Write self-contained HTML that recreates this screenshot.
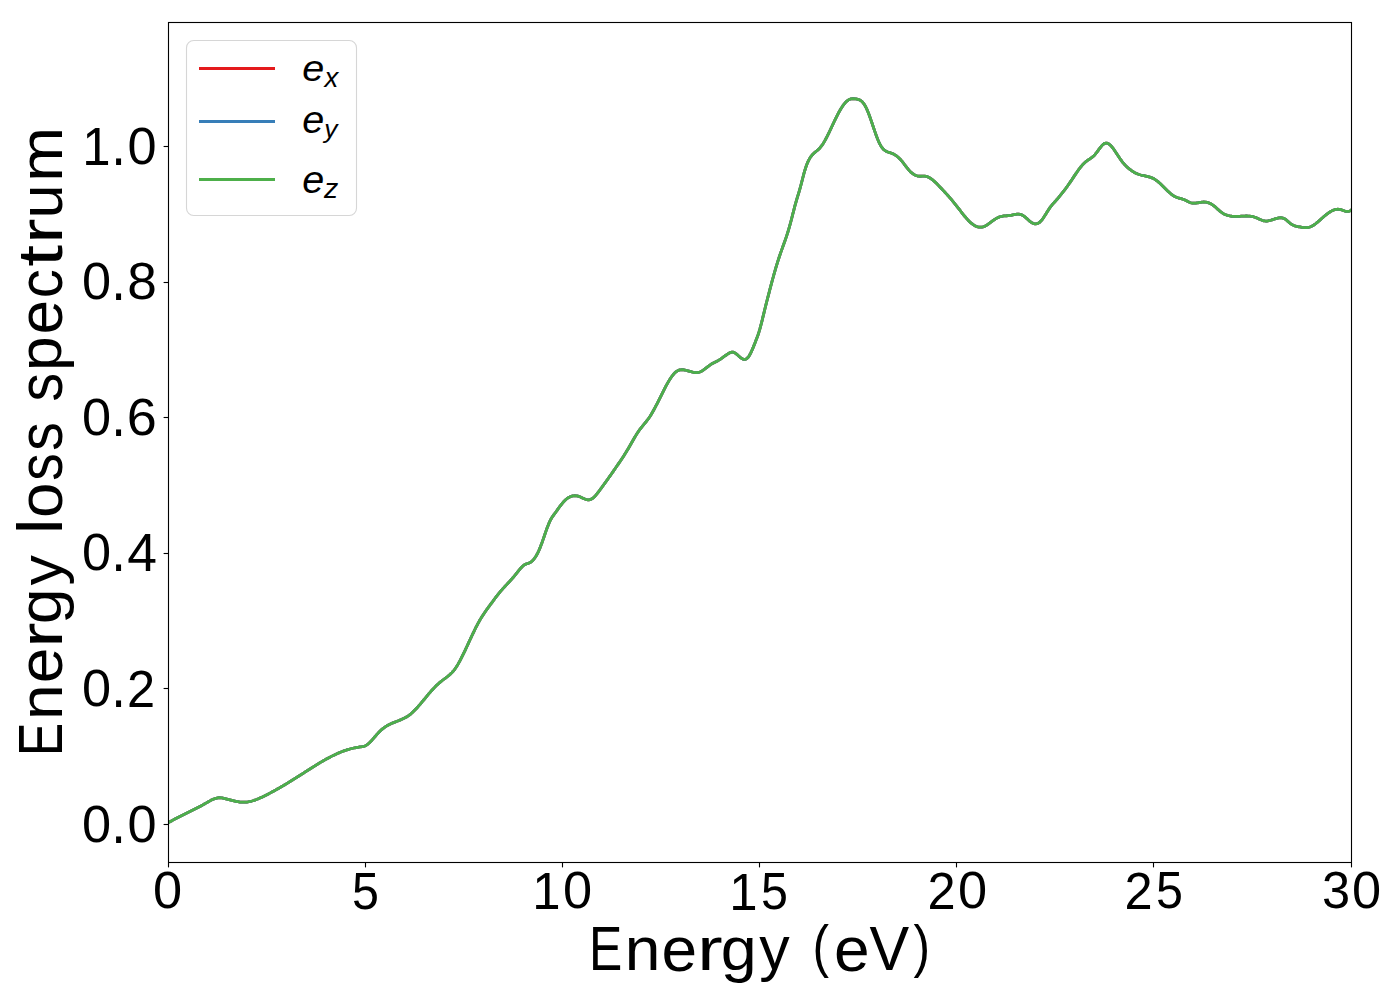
<!DOCTYPE html>
<html><head><meta charset="utf-8"><title>Energy loss spectrum</title>
<style>html,body{margin:0;padding:0;background:#fff;width:1400px;height:1000px;overflow:hidden}svg{display:block}</style>
</head><body>
<svg width="1400" height="1000" viewBox="0 0 1400 1000" font-family="'Liberation Sans', sans-serif">
<rect width="1400" height="1000" fill="#fff"/>
<defs><clipPath id="ax"><rect x="168.5" y="22.5" width="1183" height="840"/></clipPath></defs>
<g clip-path="url(#ax)" fill="none" stroke-width="2.78" stroke-linejoin="round" stroke-linecap="butt"><defs><path id="crv" d="M166 824.11 168.9 822.40 169.9 821.82 170.9 821.24 171.9 820.67 172.9 820.12 173.9 819.57 174.9 819.04 175.9 818.51 176.9 817.99 177.9 817.47 178.9 816.96 179.9 816.46 180.9 815.96 181.9 815.46 182.9 814.97 183.9 814.48 184.9 813.99 185.9 813.50 186.9 813.02 187.9 812.53 188.9 812.04 189.9 811.56 190.9 811.07 191.9 810.57 192.9 810.08 193.9 809.58 194.9 809.08 195.9 808.58 196.9 808.07 197.9 807.55 198.9 807.03 199.9 806.50 200.9 805.97 201.9 805.42 202.9 804.87 203.9 804.31 204.9 803.75 205.9 803.17 206.9 802.59 207.9 802.01 208.9 801.44 209.9 800.89 210.9 800.36 211.9 799.86 212.9 799.40 213.9 798.97 214.9 798.60 215.9 798.29 216.9 798.03 217.9 797.85 218.9 797.74 219.9 797.71 220.9 797.77 221.9 797.90 222.9 798.09 223.9 798.31 224.9 798.57 225.9 798.83 226.9 799.10 227.9 799.37 228.9 799.64 229.9 799.91 230.9 800.18 231.9 800.44 232.9 800.69 233.9 800.93 234.9 801.15 235.9 801.36 236.9 801.56 237.9 801.73 238.9 801.88 239.9 802.01 240.9 802.11 241.9 802.18 242.9 802.22 243.9 802.23 244.9 802.20 245.9 802.13 246.9 802.03 247.9 801.89 248.9 801.72 249.9 801.51 250.9 801.28 251.9 801.02 252.9 800.73 253.9 800.41 254.9 800.07 255.9 799.71 256.9 799.32 257.9 798.92 258.9 798.50 259.9 798.06 260.9 797.61 261.9 797.15 262.9 796.67 263.9 796.19 264.9 795.69 265.9 795.20 266.9 794.69 267.9 794.18 268.9 793.66 269.9 793.14 270.9 792.61 271.9 792.07 272.9 791.53 273.9 790.99 274.9 790.44 275.9 789.88 276.9 789.32 277.9 788.75 278.9 788.18 279.9 787.61 280.9 787.03 281.9 786.45 282.9 785.86 283.9 785.27 284.9 784.68 285.9 784.08 286.9 783.47 287.9 782.87 288.9 782.26 289.9 781.65 290.9 781.03 291.9 780.41 292.9 779.79 293.9 779.17 294.9 778.54 295.9 777.91 296.9 777.28 297.9 776.65 298.9 776.02 299.9 775.38 300.9 774.74 301.9 774.10 302.9 773.46 303.9 772.82 304.9 772.18 305.9 771.53 306.9 770.89 307.9 770.25 308.9 769.61 309.9 768.98 310.9 768.34 311.9 767.71 312.9 767.08 313.9 766.45 314.9 765.83 315.9 765.21 316.9 764.59 317.9 763.98 318.9 763.38 319.9 762.78 320.9 762.18 321.9 761.60 322.9 761.01 323.9 760.44 324.9 759.87 325.9 759.31 326.9 758.76 327.9 758.22 328.9 757.68 329.9 757.16 330.9 756.64 331.9 756.13 332.9 755.63 333.9 755.15 334.9 754.67 335.9 754.21 336.9 753.75 337.9 753.31 338.9 752.88 339.9 752.46 340.9 752.06 341.9 751.67 342.9 751.29 343.9 750.92 344.9 750.57 345.9 750.23 346.9 749.90 347.9 749.59 348.9 749.30 349.9 749.01 350.9 748.74 351.9 748.49 352.9 748.25 353.9 748.02 354.9 747.81 355.9 747.62 356.9 747.44 357.9 747.27 358.9 747.13 359.9 746.99 360.9 746.87 361.9 746.74 362.9 746.56 363.9 746.30 364.9 745.94 365.9 745.44 366.9 744.81 367.9 744.06 368.9 743.21 369.9 742.27 370.9 741.26 371.9 740.19 372.9 739.07 373.9 737.93 374.9 736.77 375.9 735.60 376.9 734.45 377.9 733.33 378.9 732.25 379.9 731.23 380.9 730.27 381.9 729.39 382.9 728.56 383.9 727.80 384.9 727.09 385.9 726.43 386.9 725.82 387.9 725.25 388.9 724.72 389.9 724.23 390.9 723.76 391.9 723.31 392.9 722.89 393.9 722.49 394.9 722.09 395.9 721.71 396.9 721.32 397.9 720.94 398.9 720.55 399.9 720.15 400.9 719.73 401.9 719.30 402.9 718.84 403.9 718.36 404.9 717.84 405.9 717.29 406.9 716.69 407.9 716.05 408.9 715.36 409.9 714.61 410.9 713.81 411.9 712.95 412.9 712.03 413.9 711.07 414.9 710.07 415.9 709.03 416.9 707.95 417.9 706.84 418.9 705.70 419.9 704.54 420.9 703.36 421.9 702.17 422.9 700.96 423.9 699.75 424.9 698.54 425.9 697.32 426.9 696.12 427.9 694.92 428.9 693.73 429.9 692.57 430.9 691.42 431.9 690.30 432.9 689.21 433.9 688.14 434.9 687.10 435.9 686.09 436.9 685.12 437.9 684.18 438.9 683.27 439.9 682.40 440.9 681.58 441.9 680.78 442.9 680.01 443.9 679.26 444.9 678.51 445.9 677.77 446.9 677.01 447.9 676.23 448.9 675.41 449.9 674.54 450.9 673.61 451.9 672.61 452.9 671.52 453.9 670.33 454.9 669.03 455.9 667.61 456.9 666.07 457.9 664.42 458.9 662.68 459.9 660.85 460.9 658.95 461.9 656.98 462.9 654.96 463.9 652.89 464.9 650.78 465.9 648.65 466.9 646.50 467.9 644.35 468.9 642.18 469.9 640.02 470.9 637.87 471.9 635.74 472.9 633.62 473.9 631.54 474.9 629.49 475.9 627.49 476.9 625.54 477.9 623.64 478.9 621.80 479.9 620.04 480.9 618.35 481.9 616.72 482.9 615.16 483.9 613.66 484.9 612.20 485.9 610.77 486.9 609.38 487.9 608.00 488.9 606.64 489.9 605.29 490.9 603.93 491.9 602.57 492.9 601.21 493.9 599.86 494.9 598.52 495.9 597.20 496.9 595.90 497.9 594.62 498.9 593.37 499.9 592.15 500.9 590.97 501.9 589.82 502.9 588.69 503.9 587.59 504.9 586.51 505.9 585.43 506.9 584.36 507.9 583.29 508.9 582.22 509.9 581.14 510.9 580.04 511.9 578.92 512.9 577.77 513.9 576.59 514.9 575.38 515.9 574.12 516.9 572.85 517.9 571.57 518.9 570.32 519.9 569.11 520.9 567.97 521.9 566.92 522.9 565.98 523.9 565.18 524.9 564.54 525.9 564.07 526.9 563.71 527.9 563.40 528.9 563.06 529.9 562.63 530.9 562.03 531.9 561.25 532.9 560.28 533.9 559.13 534.9 557.79 535.9 556.25 536.9 554.52 537.9 552.60 538.9 550.47 539.9 548.14 540.9 545.60 541.9 542.91 542.9 540.09 543.9 537.20 544.9 534.29 545.9 531.40 546.9 528.59 547.9 525.92 548.9 523.43 549.9 521.20 550.9 519.26 551.9 517.58 552.9 516.07 553.9 514.68 554.9 513.33 555.9 511.96 556.9 510.57 557.9 509.17 558.9 507.79 559.9 506.42 560.9 505.09 561.9 503.82 562.9 502.61 563.9 501.48 564.9 500.45 565.9 499.52 566.9 498.70 567.9 497.99 568.9 497.39 569.9 496.88 570.9 496.47 571.9 496.16 572.9 495.94 573.9 495.81 574.9 495.76 575.9 495.81 576.9 495.93 577.9 496.13 578.9 496.41 579.9 496.76 580.9 497.18 581.9 497.65 582.9 498.13 583.9 498.60 584.9 499.04 585.9 499.41 586.9 499.69 587.9 499.85 588.9 499.87 589.9 499.70 590.9 499.34 591.9 498.80 592.9 498.08 593.9 497.22 594.9 496.23 595.9 495.13 596.9 493.94 597.9 492.67 598.9 491.36 599.9 490.02 600.9 488.67 601.9 487.30 602.9 485.93 603.9 484.55 604.9 483.17 605.9 481.77 606.9 480.37 607.9 478.96 608.9 477.55 609.9 476.13 610.9 474.71 611.9 473.28 612.9 471.84 613.9 470.41 614.9 468.97 615.9 467.52 616.9 466.08 617.9 464.62 618.9 463.16 619.9 461.69 620.9 460.21 621.9 458.71 622.9 457.19 623.9 455.64 624.9 454.07 625.9 452.47 626.9 450.84 627.9 449.17 628.9 447.46 629.9 445.72 630.9 443.97 631.9 442.21 632.9 440.46 633.9 438.73 634.9 437.03 635.9 435.38 636.9 433.77 637.9 432.24 638.9 430.78 639.9 429.41 640.9 428.11 641.9 426.86 642.9 425.64 643.9 424.43 644.9 423.23 645.9 422.00 646.9 420.73 647.9 419.41 648.9 418.01 649.9 416.51 650.9 414.93 651.9 413.27 652.9 411.53 653.9 409.72 654.9 407.87 655.9 405.96 656.9 404.01 657.9 402.04 658.9 400.04 659.9 398.03 660.9 396.02 661.9 394.01 662.9 392.01 663.9 390.04 664.9 388.10 665.9 386.20 666.9 384.35 667.9 382.57 668.9 380.86 669.9 379.24 670.9 377.71 671.9 376.29 672.9 374.99 673.9 373.82 674.9 372.79 675.9 371.90 676.9 371.18 677.9 370.62 678.9 370.21 679.9 369.93 680.9 369.77 681.9 369.71 682.9 369.74 683.9 369.86 684.9 370.03 685.9 370.25 686.9 370.51 687.9 370.80 688.9 371.10 689.9 371.39 690.9 371.68 691.9 371.95 692.9 372.19 693.9 372.38 694.9 372.51 695.9 372.58 696.9 372.57 697.9 372.47 698.9 372.27 699.9 371.96 700.9 371.53 701.9 370.99 702.9 370.36 703.9 369.66 704.9 368.91 705.9 368.13 706.9 367.33 707.9 366.55 708.9 365.79 709.9 365.07 710.9 364.41 711.9 363.80 712.9 363.24 713.9 362.71 714.9 362.20 715.9 361.69 716.9 361.18 717.9 360.65 718.9 360.09 719.9 359.50 720.9 358.85 721.9 358.16 722.9 357.44 723.9 356.71 724.9 355.97 725.9 355.25 726.9 354.56 727.9 353.91 728.9 353.31 729.9 352.78 730.9 352.35 731.9 352.10 732.9 352.13 733.9 352.42 734.9 352.93 735.9 353.60 736.9 354.40 737.9 355.27 738.9 356.17 739.9 357.05 740.9 357.85 741.9 358.54 742.9 359.07 743.9 359.38 744.9 359.43 745.9 359.18 746.9 358.56 747.9 357.56 748.9 356.20 749.9 354.52 750.9 352.57 751.9 350.41 752.9 348.09 753.9 345.65 754.9 343.14 755.9 340.61 756.9 337.99 757.9 335.22 758.9 332.21 759.9 328.91 760.9 325.24 761.9 321.30 762.9 317.19 763.9 313.05 764.9 308.96 765.9 304.96 766.9 301.02 767.9 297.13 768.9 293.28 769.9 289.46 770.9 285.67 771.9 281.93 772.9 278.25 773.9 274.64 774.9 271.11 775.9 267.67 776.9 264.33 777.9 261.11 778.9 258.01 779.9 255.03 780.9 252.16 781.9 249.35 782.9 246.57 783.9 243.78 784.9 240.97 785.9 238.08 786.9 235.10 787.9 231.98 788.9 228.70 789.9 225.21 790.9 221.51 791.9 217.64 792.9 213.71 793.9 209.79 794.9 205.96 795.9 202.32 796.9 198.90 797.9 195.59 798.9 192.29 799.9 188.88 800.9 185.25 801.9 181.41 802.9 177.51 803.9 173.73 804.9 170.22 805.9 167.08 806.9 164.31 807.9 161.90 808.9 159.84 809.9 158.08 810.9 156.58 811.9 155.31 812.9 154.21 813.9 153.24 814.9 152.37 815.9 151.55 816.9 150.74 817.9 149.89 818.9 148.97 819.9 147.93 820.9 146.74 821.9 145.40 822.9 143.91 823.9 142.31 824.9 140.59 825.9 138.77 826.9 136.86 827.9 134.89 828.9 132.85 829.9 130.77 830.9 128.66 831.9 126.53 832.9 124.40 833.9 122.27 834.9 120.17 835.9 118.10 836.9 116.08 837.9 114.12 838.9 112.23 839.9 110.44 840.9 108.74 841.9 107.16 842.9 105.69 843.9 104.34 844.9 103.13 845.9 102.05 846.9 101.11 847.9 100.32 848.9 99.69 849.9 99.22 850.9 98.92 851.9 98.76 852.9 98.72 853.9 98.75 854.9 98.83 855.9 98.94 856.9 99.10 857.9 99.32 858.9 99.65 859.9 100.10 860.9 100.72 861.9 101.53 862.9 102.56 863.9 103.83 864.9 105.39 865.9 107.25 866.9 109.38 867.9 111.75 868.9 114.32 869.9 117.05 870.9 119.89 871.9 122.81 872.9 125.76 873.9 128.72 874.9 131.63 875.9 134.46 876.9 137.17 877.9 139.71 878.9 142.04 879.9 144.12 880.9 145.91 881.9 147.43 882.9 148.68 883.9 149.71 884.9 150.52 885.9 151.14 886.9 151.62 887.9 151.99 888.9 152.32 889.9 152.63 890.9 152.97 891.9 153.36 892.9 153.80 893.9 154.30 894.9 154.87 895.9 155.51 896.9 156.23 897.9 157.03 898.9 157.93 899.9 158.92 900.9 160.02 901.9 161.21 902.9 162.46 903.9 163.75 904.9 165.06 905.9 166.37 906.9 167.66 907.9 168.90 908.9 170.08 909.9 171.16 910.9 172.14 911.9 173.01 912.9 173.77 913.9 174.42 914.9 174.97 915.9 175.42 916.9 175.77 917.9 176.03 918.9 176.19 919.9 176.26 920.9 176.25 921.9 176.18 922.9 176.11 923.9 176.08 924.9 176.12 925.9 176.27 926.9 176.54 927.9 176.92 928.9 177.39 929.9 177.96 930.9 178.61 931.9 179.34 932.9 180.14 933.9 181.00 934.9 181.90 935.9 182.86 936.9 183.84 937.9 184.86 938.9 185.89 939.9 186.94 940.9 187.99 941.9 189.04 942.9 190.10 943.9 191.17 944.9 192.25 945.9 193.33 946.9 194.43 947.9 195.53 948.9 196.66 949.9 197.80 950.9 198.95 951.9 200.12 952.9 201.32 953.9 202.53 954.9 203.77 955.9 205.03 956.9 206.31 957.9 207.61 958.9 208.91 959.9 210.21 960.9 211.50 961.9 212.79 962.9 214.05 963.9 215.30 964.9 216.51 965.9 217.69 966.9 218.83 967.9 219.92 968.9 220.96 969.9 221.94 970.9 222.85 971.9 223.69 972.9 224.45 973.9 225.13 974.9 225.72 975.9 226.22 976.9 226.61 977.9 226.91 978.9 227.11 979.9 227.21 980.9 227.21 981.9 227.10 982.9 226.89 983.9 226.58 984.9 226.15 985.9 225.63 986.9 225.02 987.9 224.34 988.9 223.61 989.9 222.87 990.9 222.12 991.9 221.39 992.9 220.67 993.9 219.97 994.9 219.31 995.9 218.69 996.9 218.12 997.9 217.61 998.9 217.16 999.9 216.79 1000.9 216.49 1001.9 216.27 1002.9 216.10 1003.9 215.97 1004.9 215.88 1005.9 215.81 1006.9 215.75 1007.9 215.67 1008.9 215.58 1009.9 215.46 1010.9 215.29 1011.9 215.09 1012.9 214.88 1013.9 214.67 1014.9 214.47 1015.9 214.30 1016.9 214.19 1017.9 214.13 1018.9 214.16 1019.9 214.29 1020.9 214.52 1021.9 214.89 1022.9 215.40 1023.9 216.06 1024.9 216.84 1025.9 217.71 1026.9 218.63 1027.9 219.56 1028.9 220.47 1029.9 221.32 1030.9 222.07 1031.9 222.70 1032.9 223.21 1033.9 223.58 1034.9 223.79 1035.9 223.83 1036.9 223.70 1037.9 223.37 1038.9 222.84 1039.9 222.09 1040.9 221.11 1041.9 219.93 1042.9 218.58 1043.9 217.11 1044.9 215.55 1045.9 213.93 1046.9 212.30 1047.9 210.68 1048.9 209.13 1049.9 207.66 1050.9 206.32 1051.9 205.09 1052.9 203.93 1053.9 202.81 1054.9 201.71 1055.9 200.60 1056.9 199.46 1057.9 198.31 1058.9 197.13 1059.9 195.93 1060.9 194.71 1061.9 193.47 1062.9 192.20 1063.9 190.91 1064.9 189.59 1065.9 188.25 1066.9 186.88 1067.9 185.49 1068.9 184.07 1069.9 182.62 1070.9 181.14 1071.9 179.65 1072.9 178.14 1073.9 176.63 1074.9 175.13 1075.9 173.64 1076.9 172.18 1077.9 170.75 1078.9 169.37 1079.9 168.03 1080.9 166.76 1081.9 165.56 1082.9 164.44 1083.9 163.40 1084.9 162.47 1085.9 161.63 1086.9 160.88 1087.9 160.18 1088.9 159.52 1089.9 158.86 1090.9 158.17 1091.9 157.44 1092.9 156.63 1093.9 155.72 1094.9 154.68 1095.9 153.49 1096.9 152.19 1097.9 150.82 1098.9 149.43 1099.9 148.07 1100.9 146.78 1101.9 145.61 1102.9 144.61 1103.9 143.82 1104.9 143.29 1105.9 143.07 1106.9 143.13 1107.9 143.46 1108.9 144.02 1109.9 144.80 1110.9 145.76 1111.9 146.89 1112.9 148.14 1113.9 149.51 1114.9 150.96 1115.9 152.47 1116.9 154.00 1117.9 155.55 1118.9 157.07 1119.9 158.54 1120.9 159.94 1121.9 161.27 1122.9 162.53 1123.9 163.72 1124.9 164.84 1125.9 165.89 1126.9 166.88 1127.9 167.81 1128.9 168.67 1129.9 169.48 1130.9 170.23 1131.9 170.93 1132.9 171.57 1133.9 172.16 1134.9 172.70 1135.9 173.19 1136.9 173.64 1137.9 174.05 1138.9 174.41 1139.9 174.73 1140.9 175.02 1141.9 175.28 1142.9 175.51 1143.9 175.73 1144.9 175.94 1145.9 176.15 1146.9 176.37 1147.9 176.61 1148.9 176.87 1149.9 177.16 1150.9 177.50 1151.9 177.88 1152.9 178.32 1153.9 178.82 1154.9 179.40 1155.9 180.05 1156.9 180.78 1157.9 181.57 1158.9 182.42 1159.9 183.31 1160.9 184.24 1161.9 185.20 1162.9 186.19 1163.9 187.18 1164.9 188.18 1165.9 189.18 1166.9 190.16 1167.9 191.13 1168.9 192.06 1169.9 192.95 1170.9 193.80 1171.9 194.59 1172.9 195.31 1173.9 195.96 1174.9 196.53 1175.9 197.02 1176.9 197.43 1177.9 197.78 1178.9 198.08 1179.9 198.37 1180.9 198.64 1181.9 198.93 1182.9 199.24 1183.9 199.59 1184.9 200.01 1185.9 200.50 1186.9 201.03 1187.9 201.56 1188.9 202.06 1189.9 202.48 1190.9 202.80 1191.9 203.01 1192.9 203.12 1193.9 203.16 1194.9 203.13 1195.9 203.04 1196.9 202.91 1197.9 202.76 1198.9 202.59 1199.9 202.42 1200.9 202.27 1201.9 202.14 1202.9 202.05 1203.9 202.01 1204.9 202.03 1205.9 202.14 1206.9 202.32 1207.9 202.59 1208.9 202.93 1209.9 203.35 1210.9 203.85 1211.9 204.43 1212.9 205.08 1213.9 205.81 1214.9 206.62 1215.9 207.50 1216.9 208.43 1217.9 209.37 1218.9 210.30 1219.9 211.17 1220.9 211.97 1221.9 212.68 1222.9 213.32 1223.9 213.89 1224.9 214.38 1225.9 214.81 1226.9 215.18 1227.9 215.49 1228.9 215.75 1229.9 215.96 1230.9 216.12 1231.9 216.25 1232.9 216.34 1233.9 216.39 1234.9 216.42 1235.9 216.42 1236.9 216.40 1237.9 216.37 1238.9 216.32 1239.9 216.27 1240.9 216.21 1241.9 216.15 1242.9 216.10 1243.9 216.05 1244.9 216.02 1245.9 216.00 1246.9 216.00 1247.9 216.03 1248.9 216.09 1249.9 216.18 1250.9 216.31 1251.9 216.47 1252.9 216.69 1253.9 216.95 1254.9 217.27 1255.9 217.64 1256.9 218.05 1257.9 218.49 1258.9 218.94 1259.9 219.39 1260.9 219.81 1261.9 220.20 1262.9 220.53 1263.9 220.79 1264.9 220.96 1265.9 221.04 1266.9 221.02 1267.9 220.92 1268.9 220.74 1269.9 220.52 1270.9 220.24 1271.9 219.93 1272.9 219.60 1273.9 219.26 1274.9 218.92 1275.9 218.60 1276.9 218.30 1277.9 218.05 1278.9 217.87 1279.9 217.76 1280.9 217.75 1281.9 217.85 1282.9 218.08 1283.9 218.45 1284.9 218.98 1285.9 219.68 1286.9 220.51 1287.9 221.39 1288.9 222.29 1289.9 223.13 1290.9 223.86 1291.9 224.49 1292.9 225.01 1293.9 225.46 1294.9 225.83 1295.9 226.13 1296.9 226.39 1297.9 226.61 1298.9 226.80 1299.9 226.97 1300.9 227.14 1301.9 227.30 1302.9 227.44 1303.9 227.54 1304.9 227.61 1305.9 227.62 1306.9 227.58 1307.9 227.46 1308.9 227.27 1309.9 226.99 1310.9 226.61 1311.9 226.14 1312.9 225.58 1313.9 224.95 1314.9 224.26 1315.9 223.51 1316.9 222.71 1317.9 221.88 1318.9 221.01 1319.9 220.13 1320.9 219.23 1321.9 218.32 1322.9 217.43 1323.9 216.55 1324.9 215.69 1325.9 214.86 1326.9 214.07 1327.9 213.33 1328.9 212.63 1329.9 211.98 1330.9 211.39 1331.9 210.86 1332.9 210.40 1333.9 210.01 1334.9 209.69 1335.9 209.46 1336.9 209.31 1337.9 209.25 1338.9 209.29 1339.9 209.44 1340.9 209.68 1341.9 209.99 1342.9 210.35 1343.9 210.70 1344.9 211.03 1345.9 211.29 1346.9 211.44 1347.9 211.46 1348.9 211.30 1349.9 210.93 1350.9 210.31 1351.9 209.42 1352 209.31"/></defs><use href="#crv" stroke="#e41a1c"/><use href="#crv" stroke="#377eb8"/><use href="#crv" stroke="#4daf4a"/></g>
<rect x="168.5" y="22.5" width="1183" height="840" fill="none" stroke="#000" stroke-width="1.11" stroke-linejoin="miter"/>
<g stroke="#000" stroke-width="1.11"><line x1="168.5" y1="862.5" x2="168.5" y2="867.4"/><line x1="365.5" y1="862.5" x2="365.5" y2="867.4"/><line x1="562.5" y1="862.5" x2="562.5" y2="867.4"/><line x1="759.5" y1="862.5" x2="759.5" y2="867.4"/><line x1="956.5" y1="862.5" x2="956.5" y2="867.4"/><line x1="1153.5" y1="862.5" x2="1153.5" y2="867.4"/><line x1="1351.5" y1="862.5" x2="1351.5" y2="867.4"/><line x1="163.6" y1="146.5" x2="168.5" y2="146.5"/><line x1="163.6" y1="282.5" x2="168.5" y2="282.5"/><line x1="163.6" y1="417.5" x2="168.5" y2="417.5"/><line x1="163.6" y1="553.5" x2="168.5" y2="553.5"/><line x1="163.6" y1="688.5" x2="168.5" y2="688.5"/><line x1="163.6" y1="824.5" x2="168.5" y2="824.5"/></g>
<rect x="186.5" y="40.5" width="170" height="175" rx="7.2" ry="7.2" fill="#fff" fill-opacity="0.8" stroke="#ccc" stroke-opacity="0.8" stroke-width="1.11"/>
<g stroke-width="2.78"><line x1="199" y1="68.5" x2="275" y2="68.5" stroke="#e41a1c"/><line x1="199" y1="121.5" x2="275" y2="121.5" stroke="#377eb8"/><line x1="199" y1="179.5" x2="275" y2="179.5" stroke="#4daf4a"/></g>
<g fill="#000">
<text transform="matrix(1.047 0 0 1.018 152.906 908.491)" font-size="50">0</text>
<text transform="matrix(0.968 0 0 1.032 352.063 909.484)" font-size="50">5</text>
<text transform="matrix(1.017 0 0 1.047 532.185 909)" font-size="50">1</text>
<text transform="matrix(1.047 0 0 1.018 562.906 908.491)" font-size="50">0</text>
<text transform="matrix(1.017 0 0 1.047 729.185 910)" font-size="50">1</text>
<text transform="matrix(0.968 0 0 1.032 761.063 909.484)" font-size="50">5</text>
<text transform="matrix(1.011 0 0 1.032 927.473 909)" font-size="50">2</text>
<text transform="matrix(1.047 0 0 1.018 957.906 908.491)" font-size="50">0</text>
<text transform="matrix(1.011 0 0 1.032 1124.473 909)" font-size="50">2</text>
<text transform="matrix(0.968 0 0 1.032 1156.063 908.484)" font-size="50">5</text>
<text transform="matrix(1.011 0 0 1.018 1322.105 908.491)" font-size="50">3</text>
<text transform="matrix(1.047 0 0 1.018 1351.906 908.491)" font-size="50">0</text>
<text transform="matrix(1.047 0 0 1.032 81.906 842.484)" font-size="50">0</text>
<text transform="matrix(1.053 0 0 1.209 111.132 843)" font-size="50">.</text>
<text transform="matrix(1.047 0 0 1.032 127.406 842.484)" font-size="50">0</text>
<text transform="matrix(1.047 0 0 1.032 81.906 706.484)" font-size="50">0</text>
<text transform="matrix(1.053 0 0 1.209 111.132 707)" font-size="50">.</text>
<text transform="matrix(1.011 0 0 1.047 126.973 707)" font-size="50">2</text>
<text transform="matrix(1.047 0 0 1.032 81.906 570.484)" font-size="50">0</text>
<text transform="matrix(1.053 0 0 1.209 111.132 571)" font-size="50">.</text>
<text transform="matrix(1.069 0 0 1.062 127.297 571)" font-size="50">4</text>
<text transform="matrix(1.047 0 0 1.032 81.906 435.484)" font-size="50">0</text>
<text transform="matrix(1.053 0 0 1.209 111.132 436)" font-size="50">.</text>
<text transform="matrix(1.081 0 0 1.032 126.797 435.484)" font-size="50">6</text>
<text transform="matrix(1.047 0 0 1.032 81.906 299.484)" font-size="50">0</text>
<text transform="matrix(1.053 0 0 1.209 111.132 300)" font-size="50">.</text>
<text transform="matrix(1.064 0 0 1.032 127.239 299.484)" font-size="50">8</text>
<text transform="matrix(1.017 0 0 1.062 82.185 165)" font-size="50">1</text>
<text transform="matrix(1.053 0 0 1.209 111.132 165)" font-size="50">.</text>
<text transform="matrix(1.047 0 0 1.032 127.406 164.484)" font-size="50">0</text>
<text transform="matrix(0.998 0 0 1.251 588.882 970.2)" font-size="50">E</text>
<text transform="matrix(1.282 0 0 1.228 624.781 970.2)" font-size="50">n</text>
<text transform="matrix(1.28 0 0 1.242 661.492 970.579)" font-size="50">e</text>
<text transform="matrix(1.525 0 0 1.228 697.182 970.2)" font-size="50">r</text>
<text transform="matrix(1.293 0 0 1.208 720.643 969.666)" font-size="50">g</text>
<text transform="matrix(1.216 0 0 1.224 759.346 969.496)" font-size="50">y</text>
<text transform="matrix(0.993 0 0 1.137 812.561 966.406)" font-size="50">(</text>
<text transform="matrix(1.28 0 0 1.242 834.008 970.579)" font-size="50">e</text>
<text transform="matrix(1.19 0 0 1.251 869.531 970.2)" font-size="50">V</text>
<text transform="matrix(0.993 0 0 1.137 913.587 966.406)" font-size="50">)</text>
<text transform="matrix(0 -0.998 1.251 0 62 755.916)" font-size="50">E</text>
<text transform="matrix(0 -1.281 1.228 0 62 720.038)" font-size="50">n</text>
<text transform="matrix(0 -1.28 1.242 0 62.379 683.349)" font-size="50">e</text>
<text transform="matrix(0 -1.524 1.228 0 62 647.681)" font-size="50">r</text>
<text transform="matrix(0 -1.292 1.208 0 61.466 624.233)" font-size="50">g</text>
<text transform="matrix(0 -1.215 1.197 0 61.578 585.553)" font-size="50">y</text>
<text transform="matrix(0 -1.375 1.241 0 62 533.907)" font-size="50">l</text>
<text transform="matrix(0 -1.273 1.242 0 62.379 517.938)" font-size="50">o</text>
<text transform="matrix(0 -1.1 1.242 0 62.379 480.659)" font-size="50">s</text>
<text transform="matrix(0 -1.146 1.242 0 62.379 450.65)" font-size="50">s</text>
<text transform="matrix(0 -1.146 1.242 0 62.379 401.533)" font-size="50">s</text>
<text transform="matrix(0 -1.247 1.208 0 61.466 370.933)" font-size="50">p</text>
<text transform="matrix(0 -1.237 1.242 0 62.379 334.423)" font-size="50">e</text>
<text transform="matrix(0 -1.166 1.242 0 62.379 298.185)" font-size="50">c</text>
<text transform="matrix(0 -1.572 1.252 0 61.531 266.815)" font-size="50">t</text>
<text transform="matrix(0 -1.524 1.228 0 62 243.714)" font-size="50">r</text>
<text transform="matrix(0 -1.226 1.228 0 62.386 218.5)" font-size="50">u</text>
<text transform="matrix(0 -1.317 1.228 0 62 181.871)" font-size="50">m</text>
<text transform="matrix(0.792 0 0 0.756 302.313 81.122)" font-size="50" font-style="italic">e</text>
<text transform="matrix(0.553 0 0 0.535 324.507 87.1)" font-size="50" font-style="italic">x</text>
<text transform="matrix(0.792 0 0 0.774 302.213 133.413)" font-size="50" font-style="italic">e</text>
<text transform="matrix(0.529 0 0 0.528 324.255 138.323)" font-size="50" font-style="italic">y</text>
<text transform="matrix(0.792 0 0 0.793 302.213 192.604)" font-size="50" font-style="italic">e</text>
<text transform="matrix(0.571 0 0 0.542 323.943 197.9)" font-size="50" font-style="italic">z</text>
</g>
</svg>
</body></html>
